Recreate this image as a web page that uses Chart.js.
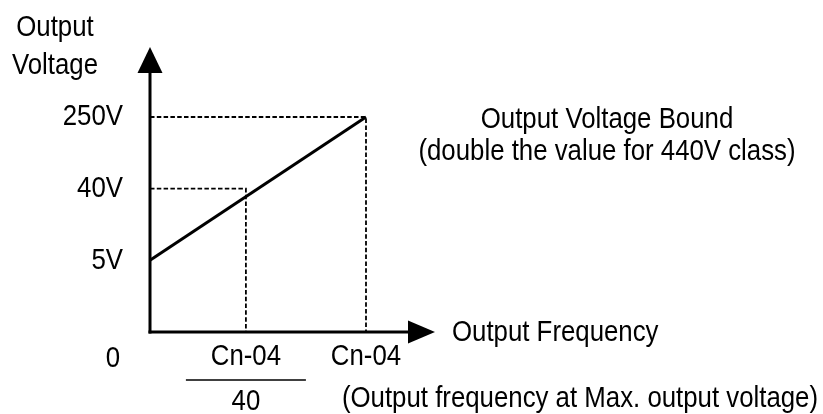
<!DOCTYPE html>
<html>
<head>
<meta charset="utf-8">
<title>V/F Output Voltage Bound</title>
<script src="https://cdn.jsdelivr.net/npm/chart.js@4/dist/chart.umd.min.js"></script>
<style>
  html, body { margin: 0; padding: 0; background: #ffffff; }
  #wrap { width: 823px; height: 414px; }
</style>
</head>
<body>
<div id="wrap"><canvas id="vf" width="823" height="414"></canvas></div>
<script>
// Axis categories (schematic, not to scale)
const freqLabels = ['0', 'Cn-04/40', 'Cn-04'];
const voltLabels = ['0', '5V', '40V', '250V'];

// V/F line: from 5V at 0 Hz up to 250V at Cn-04
const vfFreq = ['0', 'Cn-04'];
const vfVolt = ['5V', '250V'];

// Dashed reference corners
const guideFreq = ['Cn-04/40', 'Cn-04'];
const guideVolt = ['40V', '250V'];

// Annotations
const yTitle = ['Output', 'Voltage'];
const xTitle = 'Output Frequency';
const xNote = '(Output frequency at Max. output voltage)';
const boundNote = ['Output Voltage Bound', '(double the value for 440V class)'];

const FONT_FAMILY = "'Liberation Sans', Arial, sans-serif";
const FONT_SIZE = 30;
const TEXT_SCALE_X = 0.86;   // narrow lettering
const INK = '#000000';

// Category scale: categories may sit at configurable fractions of the axis,
// and tick labels are drawn horizontally condensed.
class DiagramCategoryScale extends Chart.CategoryScale {
  getPixelForValue(value) {
    if (typeof value !== 'number') value = this.parse(value);
    if (value === null || value === undefined || isNaN(value)) return NaN;
    const stops = this.options.stops;
    let dec;
    if (stops && stops.length === this.getLabels().length) {
      const i = Math.max(0, Math.min(stops.length - 1, Math.round(value)));
      dec = stops[i];
    } else {
      dec = (value - this._startValue) / this._valueRange;
    }
    return this.getPixelForDecimal(dec);
  }
  drawLabels(chartArea) {
    if (!this.options.ticks.display) return;
    const ctx = this.ctx;
    const sx = this.options.ticks.scaleX || 1;
    for (const item of this.getLabelItems(chartArea)) {
      const o = item.options;
      const lines = Array.isArray(item.label) ? item.label : [item.label];
      ctx.save();
      ctx.translate(o.translation[0], o.translation[1]);
      ctx.scale(sx, 1);
      ctx.font = item.font.string;
      ctx.fillStyle = o.color;
      ctx.textAlign = o.textAlign;
      ctx.textBaseline = o.textBaseline;
      let y = item.textOffset;
      for (const line of lines) {
        ctx.fillText(line, 0, y);
        y += item.font.lineHeight;
      }
      ctx.restore();
    }
  }
}
DiagramCategoryScale.id = 'diagramCategory';
DiagramCategoryScale.defaults = Chart.CategoryScale.defaults;
Chart.register(DiagramCategoryScale);

const vfPoints = vfFreq.map((f, i) => ({ x: f, y: vfVolt[i] }));
const guidePaths = guideFreq.map((f, i) => [
  { x: freqLabels[0], y: guideVolt[i] },
  { x: f, y: guideVolt[i] },
  { x: f, y: voltLabels[0] }
]);

function tickText(label) {
  // fractions are shown stacked
  const parts = label.split('/');
  return parts.length === 2 ? [parts[0], parts[1]] : label;
}

function condensedText(ctx, text, x, y, align, baseline) {
  ctx.save();
  ctx.translate(x, y);
  ctx.scale(TEXT_SCALE_X, 1);
  ctx.textAlign = align;
  ctx.textBaseline = baseline;
  ctx.fillText(text, 0, 0);
  ctx.restore();
}

const diagramPlugin = {
  id: 'diagram',
  afterDatasetsDraw(chart) {
    const ctx = chart.ctx;
    const xs = chart.scales.x, ys = chart.scales.y;
    const x0 = xs.getPixelForValue(freqLabels[0]);
    const y0 = ys.getPixelForValue(voltLabels[0]);
    const yTop = ys.getPixelForValue(voltLabels[voltLabels.length - 1]);
    const xEnd = xs.getPixelForValue(freqLabels[freqLabels.length - 1]);

    ctx.save();
    ctx.strokeStyle = INK;
    ctx.fillStyle = INK;
    ctx.lineWidth = 3;
    ctx.lineCap = 'butt';

    // vertical axis with arrow
    const yTip = yTop - 70;
    ctx.beginPath();
    ctx.moveTo(x0, y0 + 1.5);
    ctx.lineTo(x0, yTip + 20);
    ctx.stroke();
    ctx.beginPath();
    ctx.moveTo(x0, yTip);
    ctx.lineTo(x0 - 12.5, yTip + 26);
    ctx.lineTo(x0 + 12.5, yTip + 26);
    ctx.closePath();
    ctx.fill();

    // horizontal axis with arrow
    const xTip = xEnd + 69;
    ctx.beginPath();
    ctx.moveTo(x0 - 1.5, y0);
    ctx.lineTo(xTip - 20, y0);
    ctx.stroke();
    ctx.beginPath();
    ctx.moveTo(xTip, y0);
    ctx.lineTo(xTip - 27, y0 - 11.5);
    ctx.lineTo(xTip - 27, y0 + 11.5);
    ctx.closePath();
    ctx.fill();

    // fraction bar under the stacked tick
    const fracX = xs.getPixelForValue(freqLabels[1]);
    ctx.lineWidth = 1.5;
    ctx.beginPath();
    ctx.moveTo(fracX - 60, y0 + 48);
    ctx.lineTo(fracX + 60, y0 + 48);
    ctx.stroke();

    // texts
    ctx.font = FONT_SIZE + 'px ' + FONT_FAMILY;
    condensedText(ctx, yTitle[0], x0 - 95, yTip - 11, 'center', 'alphabetic');
    condensedText(ctx, yTitle[1], x0 - 95, yTip + 27, 'center', 'alphabetic');
    condensedText(ctx, freqLabels[0], x0 - 37, y0 + 35, 'center', 'alphabetic');
    condensedText(ctx, xTitle, xTip + 17, y0 + 1, 'left', 'middle');
    condensedText(ctx, xNote, 580, y0 + 75, 'center', 'alphabetic');
    condensedText(ctx, boundNote[0], 607, yTop + 11, 'center', 'alphabetic');
    condensedText(ctx, boundNote[1], 607, yTop + 43, 'center', 'alphabetic');
    ctx.restore();
  }
};

new Chart(document.getElementById('vf'), {
  type: 'scatter',
  data: {
    datasets: [
      {
        label: 'V/F',
        data: vfPoints,
        showLine: true,
        borderColor: INK,
        borderWidth: 3,
        pointRadius: 0,
        clip: false
      },
      ...guidePaths.map((p, i) => ({
        label: 'guide ' + guideVolt[i],
        data: p,
        showLine: true,
        borderColor: INK,
        borderWidth: 1.8,
        borderDash: [4.5, 2.3],
        pointRadius: 0,
        clip: false
      }))
    ]
  },
  options: {
    responsive: false,
    animation: false,
    events: [],
    layout: { padding: { top: 117, right: 457, left: 0, bottom: 0 } },
    plugins: { legend: { display: false }, tooltip: { enabled: false }, title: { display: false } },
    scales: {
      x: {
        type: 'diagramCategory',
        labels: freqLabels,
        stops: [0, 0.444, 1],
        offset: false,
        grid: { display: false, drawTicks: false },
        border: { display: false },
        afterFit(scale) { scale.height = 82; },
        ticks: {
          autoSkip: false,
          maxRotation: 0,
          padding: 2,
          scaleX: TEXT_SCALE_X,
          color: INK,
          font: { family: FONT_FAMILY, size: FONT_SIZE, lineHeight: 1.5 },
          callback(value, index) {
            return index === 0 ? '' : tickText(freqLabels[index]);
          }
        }
      },
      y: {
        type: 'diagramCategory',
        labels: voltLabels,
        reverse: true,
        offset: false,
        grid: { display: false, drawTicks: false },
        border: { display: false },
        afterFit(scale) { scale.width = 150; },
        ticks: {
          autoSkip: false,
          padding: 27,
          scaleX: TEXT_SCALE_X,
          color: INK,
          font: { family: FONT_FAMILY, size: FONT_SIZE, lineHeight: 1.5 },
          callback(value, index) {
            return index === 0 ? '' : voltLabels[index];
          }
        }
      }
    }
  },
  plugins: [diagramPlugin]
});
</script>
</body>
</html>
